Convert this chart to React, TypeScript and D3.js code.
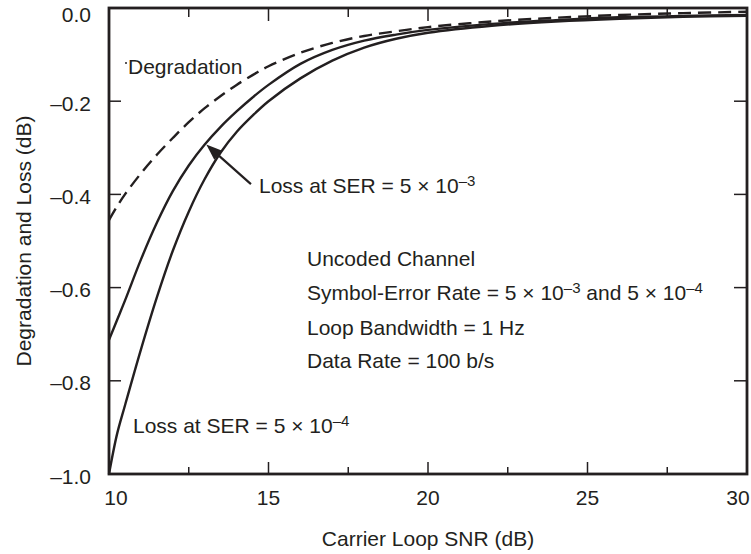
import React from "react";
import * as d3 from "d3";

const snr = [10, 10.25, 10.5, 11, 11.5, 12, 12.5, 13, 13.5, 14, 14.5, 15, 16, 17, 18, 19, 20, 22, 24, 26, 28, 30];
const degradation = [-0.455, -0.426, -0.4, -0.355, -0.315, -0.279, -0.245, -0.215, -0.189, -0.165, -0.144, -0.125, -0.096, -0.075, -0.06, -0.05, -0.041, -0.029, -0.021, -0.015, -0.011, -0.008];
const loss5e3 = [-0.712, -0.67, -0.628, -0.54, -0.461, -0.393, -0.338, -0.293, -0.255, -0.222, -0.192, -0.165, -0.12, -0.09, -0.07, -0.057, -0.047, -0.034, -0.026, -0.02, -0.017, -0.015];
const loss5e4 = [-1.0, -0.915, -0.853, -0.733, -0.621, -0.521, -0.437, -0.367, -0.31, -0.266, -0.231, -0.2, -0.151, -0.113, -0.085, -0.066, -0.053, -0.038, -0.029, -0.023, -0.019, -0.017];

const xMajor = [10, 15, 20, 25, 30];
const xMinor = [12.5, 17.5, 22.5, 27.5];
const yTicks = [0, -0.2, -0.4, -0.6, -0.8, -1.0];
const yTickLabels = ["0.0", "\u20130.2", "\u20130.4", "\u20130.6", "\u20130.8", "\u20131.0"];

const W = 751, H = 554;
const L = 109, R = 747, T = 8, B = 474;
const INK = "#231f20";
const FONT = "'Liberation Sans', Arial, Helvetica, sans-serif";

export default function App() {
  const x = d3.scaleLinear().domain([10, 30]).range([L, R]);
  const y = d3.scaleLinear().domain([-1, 0]).range([B, T]);
  const line = (vals: number[]) =>
    d3.line<number>().x((_, i) => x(snr[i])).y((v) => y(v)).curve(d3.curveCatmullRom.alpha(0.5))(vals) || "";

  // arrow
  const tip = [x(13.05), y(-0.293)];
  const tail = [x(14.45), y(-0.378)];
  const ang = Math.atan2(tail[1] - tip[1], tail[0] - tip[0]);
  const hl = 16, hw = 6;
  const bx = tip[0] + hl * Math.cos(ang), by = tip[1] + hl * Math.sin(ang);
  const head = [
    [tip[0], tip[1]],
    [bx + hw * Math.sin(ang), by - hw * Math.cos(ang)],
    [bx - hw * Math.sin(ang), by + hw * Math.cos(ang)],
  ].map((p) => p.join(",")).join(" ");

  const fs = 21;
  const supEnd = (s: string) => <tspan dy={-7} fontSize={15}>{s}</tspan>;

  return (
    <svg width={W} height={H} style={{ position: "absolute", left: 0, top: 0, background: "#fff" }} fontFamily={FONT} fill={INK}>
      <rect width={W} height={H} fill="#fff" />
      {/* curves */}
      <path d={line(degradation)} fill="none" stroke={INK} strokeWidth={2.4} strokeDasharray="13,7" />
      <path d={line(loss5e3)} fill="none" stroke={INK} strokeWidth={2.4} />
      <path d={line(loss5e4)} fill="none" stroke={INK} strokeWidth={2.4} />

      {/* ticks */}
      {xMajor.map((v) => (
        <g key={"xM" + v}>
          <line x1={x(v)} x2={x(v)} y1={B} y2={B - 12} stroke={INK} strokeWidth={1.5} />
          <line x1={x(v)} x2={x(v)} y1={T} y2={T + 13} stroke={INK} strokeWidth={1.5} />
        </g>
      ))}
      {xMinor.map((v) => (
        <g key={"xm" + v}>
          <line x1={x(v)} x2={x(v)} y1={B} y2={B - 7} stroke={INK} strokeWidth={1.5} />
          <line x1={x(v)} x2={x(v)} y1={T} y2={T + 9} stroke={INK} strokeWidth={1.5} />
        </g>
      ))}
      {yTicks.map((v) => (
        <g key={"y" + v}>
          <line x1={L} x2={L + 12} y1={y(v)} y2={y(v)} stroke={INK} strokeWidth={1.5} />
          <line x1={R} x2={R - 13} y1={y(v)} y2={y(v)} stroke={INK} strokeWidth={1.5} />
        </g>
      ))}

      {/* frame */}
      <rect x={L} y={T} width={R - L} height={B - T} fill="none" stroke={INK} strokeWidth={2.8} />

      {/* tick labels */}
      {yTicks.map((v, i) => (
        <text key={"yl" + v} x={91} y={y(v) + (i === 0 ? 6 : 2)} textAnchor="end" dominantBaseline="central" fontSize={fs}>
          {yTickLabels[i]}
        </text>
      ))}
      {xMajor.map((v, i) => (
        <text key={"xl" + v} x={x(v) + (i === 0 ? 7 : i === xMajor.length - 1 ? -9 : 0)} y={505} textAnchor="middle" fontSize={fs}>
          {String(v)}
        </text>
      ))}

      {/* axis titles */}
      <text x={(L + R) / 2} y={546} textAnchor="middle" fontSize={fs}>Carrier Loop SNR (dB)</text>
      <text transform={`translate(31,${(T + B) / 2}) rotate(-90)`} textAnchor="middle" fontSize={fs}>Degradation and Loss (dB)</text>

      {/* annotations */}
      <circle cx={126} cy={63} r={1} fill={INK} />
      <text x={128} y={74} fontSize={fs}>Degradation</text>

      <line x1={tail[0]} y1={tail[1]} x2={bx} y2={by} stroke={INK} strokeWidth={2.2} />
      <polygon points={head} fill={INK} />
      <text x={259} y={193} fontSize={fs}>Loss at SER = 5 {"\u00d7"} 10{supEnd("\u20133")}</text>

      <text x={133} y={433} fontSize={fs}>Loss at SER = 5 {"\u00d7"} 10{supEnd("\u20134")}</text>

      <text x={307} y={266} fontSize={fs}>Uncoded Channel</text>
      <text x={307} y={300} fontSize={fs}>
        <tspan>Symbol-Error Rate = 5 {"\u00d7"} 10</tspan>
        <tspan dy={-7} fontSize={15}>{"\u20133"}</tspan>
        <tspan dy={7}> and 5 {"\u00d7"} 10</tspan>
        <tspan dy={-7} fontSize={15}>{"\u20134"}</tspan>
      </text>
      <text x={307} y={335} fontSize={fs}>Loop Bandwidth = 1 Hz</text>
      <text x={307} y={368} fontSize={fs}>Data Rate = 100 b/s</text>
    </svg>
  );
}
